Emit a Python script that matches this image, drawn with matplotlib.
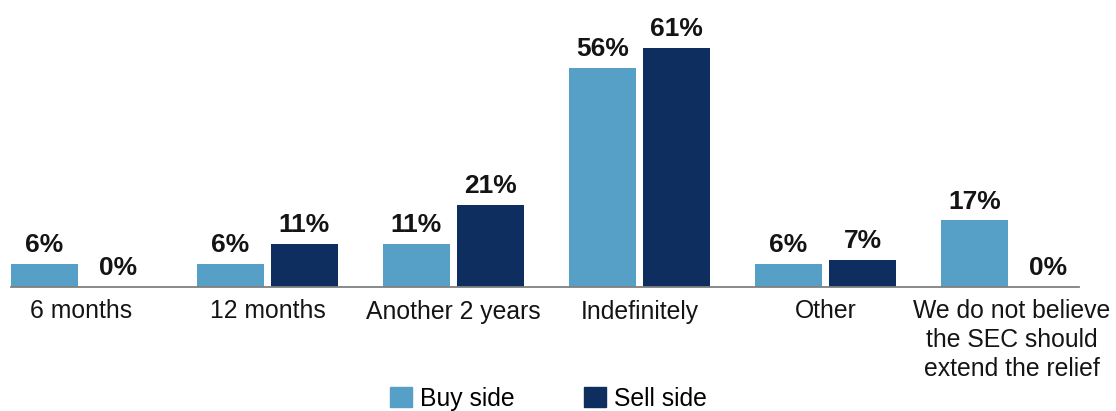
import numpy as np
import matplotlib.pyplot as plt
from matplotlib.patches import Patch

categories = ["6 months", "12 months", "Another 2 years", "Indefinitely", "Other",
              "We do not believe\nthe SEC should\nextend the relief"]
buy_side = [6, 6, 11, 56, 6, 17]
sell_side = [0, 11, 21, 61, 7, 0]
series_names = ["Buy side", "Sell side"]

BUY_COLOR = "#569FC7"
SELL_COLOR = "#0D2E5F"
FONT = "Liberation Sans"
TXT = "#141414"

fig = plt.figure(figsize=(11.16, 4.11), dpi=100)
ax = fig.add_axes([11 / 1116, 124 / 411, 1068 / 1116, 287 / 411])

x = np.arange(len(categories))
w = 67 / 186
off = 37 / 186

b1 = ax.bar(x - off, buy_side, w, color=BUY_COLOR)
b2 = ax.bar(x + off, sell_side, w, color=SELL_COLOR)

# value labels above each bar
for bars, vals in ((b1, buy_side), (b2, sell_side)):
    for rect, v in zip(bars, vals):
        ax.annotate(f"{v}%", (rect.get_x() + rect.get_width() / 2, v),
                    xytext=(0, 8.6), textcoords="offset points",
                    ha="center", va="baseline", fontsize=19, fontweight="bold",
                    family=FONT, color=TXT)

ax.set_xlim(-70.5 / 186, 5 + 67.5 / 186)
ax.set_ylim(0, 287 / 3.915)

ax.set_xticks(x)
ax.set_xticklabels(categories, fontsize=17.8, family=FONT, color=TXT,
                   linespacing=1.25)
ax.tick_params(axis="x", length=0, pad=9)
ax.set_yticks([])

for s in ("top", "right", "left"):
    ax.spines[s].set_visible(False)
ax.spines["bottom"].set_color("#808080")
ax.spines["bottom"].set_linewidth(1.3)

handles = [Patch(color=BUY_COLOR), Patch(color=SELL_COLOR)]
fig.legend(handles, series_names, loc="center", bbox_to_anchor=(0.4915, 0.03),
           ncol=2, frameon=False, handlelength=0.9, handleheight=0.9,
           handletextpad=0.32, columnspacing=2.8,
           prop={"family": FONT, "size": 17.8})

fig.savefig("out.png", dpi=100)
